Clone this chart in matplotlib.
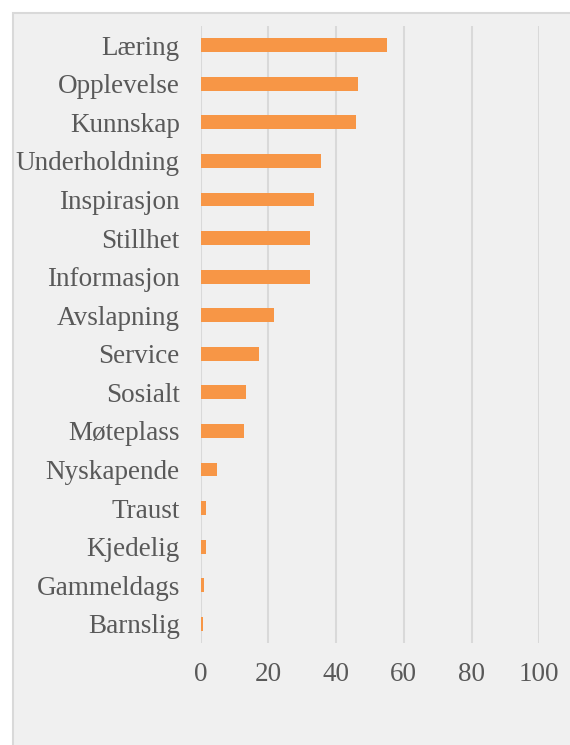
import matplotlib.pyplot as plt
from matplotlib.patches import Rectangle

# ---------- data ----------
categories = ['Læring', 'Opplevelse', 'Kunnskap', 'Underholdning', 'Inspirasjon',
              'Stillhet', 'Informasjon', 'Avslapning', 'Service', 'Sosialt',
              'Møteplass', 'Nyskapende', 'Traust', 'Kjedelig', 'Gammeldags', 'Barnslig']
values = [55, 46.4, 46.0, 35.5, 33.6, 32.3, 32.3, 21.7, 17.2, 13.4,
          12.9, 4.8, 1.6, 1.6, 0.9, 0.6]
xticks = [0, 20, 40, 60, 80, 100]

plt.rcParams['font.family'] = ['Liberation Serif', 'DejaVu Serif']
text_col = '#595959'
grid_col = '#D9D9D9'

fig = plt.figure(figsize=(5.7, 7.45), dpi=100)
fig.patch.set_facecolor('white')
# chart area background with border (cropped at right/bottom)
fig.patches.append(Rectangle((12.5 / 570, -0.05), 1.1, 1.05 - 13 / 745,
                             transform=fig.transFigure, facecolor='#F0F0F0',
                             edgecolor=grid_col, linewidth=1.5, zorder=-5))

ax = fig.add_axes([200.7 / 570, 1 - 643 / 745, (539.3 - 200.7) / 570, (643 - 26) / 745])
ax.set_facecolor('none')

y = list(range(len(categories)))
ax.barh(y, values, height=0.36, color='#F79646', zorder=3)

ax.set_xlim(0, 100)
ax.set_ylim(len(categories) - 0.5, -0.5)
ax.set_xticks(xticks)
ax.set_yticks(y)
ax.set_yticklabels(categories)

for s in ax.spines.values():
    s.set_visible(False)
ax.grid(axis='x', color=grid_col, linewidth=1.5, zorder=0)
ax.tick_params(axis='both', length=0, labelsize=19.5, colors=text_col)
ax.tick_params(axis='y', pad=15)
ax.tick_params(axis='x', pad=14)

fig.savefig('out.png', dpi=100)
